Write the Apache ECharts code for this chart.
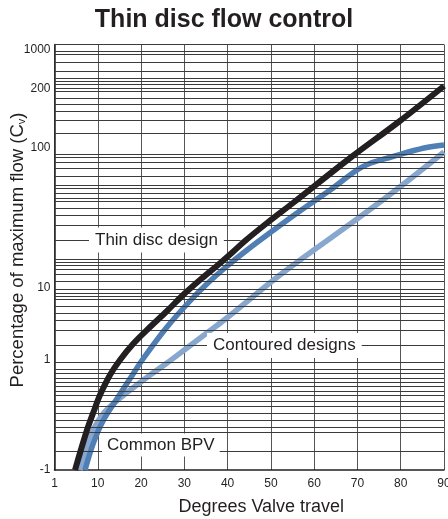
<!DOCTYPE html>
<html>
<head>
<meta charset="utf-8">
<script src="https://cdn.jsdelivr.net/npm/echarts@6/dist/echarts.min.js"></script>
<style>
html,body{margin:0;padding:0;background:#fff;}
#chart{width:448px;height:519px;}
</style>
</head>
<body>
<div id="chart"></div>
<script>
// ---- data ----
const xTickValues = [0, 10, 20, 30, 40, 50, 60, 70, 80, 90];
const xTickLabels = ['1', '10', '20', '30', '40', '50', '60', '70', '80', '90'];
// y axis is a "paper" scale (chart units); labels printed at these positions
const yTickValues = [420, 381, 322, 182, 110, 0];
const yTickLabels = ['1000', '200', '100', '10', '1', '-1'];
// horizontal rulings of the log-style paper (chart units)
const gridRules = [425.5, 419, 415.5, 407.5, 398.5, 392, 389, 385.5, 382, 378.5, 372, 365.5, 358.5, 350, 336.5,
  316, 312.5, 307.5, 301.5, 293.5, 285, 281.5, 276.5, 271.5, 268.5, 261.5, 254.5, 244.5,
  210.5, 207.5, 204.5, 201, 195.5, 189, 180.5, 177, 174, 170.5, 163.5, 157, 149.5, 139.5, 124.5,
  108, 100.5, 97, 92, 88, 83.5, 78.5, 74.5, 68.5, 63.5, 56.5, 50, 43, 38, 19];
// Thin disc design (black)
const thinDisc = [[4.74,0],[7.51,40],[9.36,62],[10.51,75],[12.82,95],[15.13,110],[18.14,126],[22.07,143],
  [26.0,159],[29.7,175],[33.6,190],[37.5,204],[41.2,218],[44.0,229],[49.1,247],[55.1,267],
  [68.3,312],[79.8,349],[90,384]];
// Contoured design (mid blue)
const contoured = [[7.05,0],[8.9,26],[11.2,49],[14.4,71],[17.4,91],[20.6,112],[26.0,143],
  [31.3,169],[35.2,186],[39.9,204],[44.5,220],[49.1,235],[56.7,259],[63.7,280],[69.9,300],
  [73.1,307],[77.8,313],[85.4,322],[90,325]];
// Common BPV (light blue)
const commonBPV = [[5.9,0],[7.7,27],[9.4,44],[11.2,56],[13.5,66],[16.0,75],[18.1,82],[22.1,95],
  [26.0,107],[30.6,122],[35.2,137],[39.2,150],[53.0,198],[69.9,251],[79.8,283],[90,318]];
const labelTexts = ['Thin disc design', 'Contoured designs', 'Common BPV'];
const yTitle = '{a|Percentage of maximum flow (C}{s|v}{a|)}';

const FONT = '"Liberation Sans", Arial, Helvetica, sans-serif';
const TXT = '#231f20';

const chart = echarts.init(document.getElementById('chart'), null, {renderer: 'canvas'});

const option = {
  backgroundColor: '#fff',
  animation: false,
  title: {
    text: 'Thin disc flow control',
    left: 'center',
    top: 3,
    textStyle: {fontFamily: FONT, fontSize: 25, fontWeight: 'bold', color: TXT}
  },
  grid: {left: 54.5, right: 4, top: 44.5, bottom: 49, containLabel: false, outerBoundsMode: 'none'},
  xAxis: {
    type: 'value', min: 0, max: 90, interval: 10,
    name: 'Degrees Valve travel', nameLocation: 'middle', nameGap: 28,
    nameTextStyle: {fontFamily: FONT, fontSize: 18, color: TXT, padding: [0, 0, 0, 24]},
    axisLine: {show: true, lineStyle: {color: '#231f20', width: 1.5}},
    axisTick: {show: false},
    axisLabel: {
      fontFamily: FONT, fontSize: 12, color: TXT, margin: 8,
      formatter: v => { const i = xTickValues.indexOf(v); return i >= 0 ? xTickLabels[i] : ''; }
    },
    splitLine: {show: true, lineStyle: {color: '#555', width: 1}}
  },
  yAxis: {
    type: 'value', min: 0, max: 425.5,
    axisLine: {show: true, lineStyle: {color: '#231f20', width: 1.5}},
    axisTick: {show: false},
    splitLine: {show: false},
    axisLabel: {
      customValues: yTickValues,
      fontFamily: FONT, fontSize: 12, color: TXT, margin: 4,
      formatter: v => { const i = yTickValues.indexOf(v); return i >= 0 ? yTickLabels[i] : ''; }
    }
  },
  series: [
    {
      type: 'line', data: [], z: 1, silent: true,
      markLine: {
        silent: true, symbol: ['none', 'none'], animation: false,
        label: {show: false},
        lineStyle: {color: '#3a3a3a', width: 1, type: 'solid'},
        data: gridRules.map(v => ({yAxis: v})).concat([
          [{coord: [0, 230]}, {coord: [43, 230]}]
        ])
      }
    },
    {
      name: labelTexts[2], type: 'line', data: commonBPV, z: 3,
      smooth: 0.35, symbol: 'none',
      lineStyle: {color: '#88a7cf', width: 5.5}
    },
    {
      name: labelTexts[1], type: 'line', data: contoured, z: 4,
      smooth: 0.35, symbol: 'none',
      lineStyle: {color: '#4f7fb5', width: 5.5}
    },
    {
      name: labelTexts[0], type: 'line', data: thinDisc, z: 5,
      smooth: 0.35, symbol: 'none',
      lineStyle: {color: '#231f20', width: 6}
    }
  ],
  graphic: [
    {type: 'text', x: 18, y: 250, rotation: Math.PI / 2, z: 100,
      style: {text: yTitle, align: 'center', verticalAlign: 'middle',
        rich: {
          a: {fontFamily: FONT, fontSize: 18.5, fill: TXT, color: TXT},
          s: {fontFamily: FONT, fontSize: 11, fill: TXT, color: TXT, padding: [8, 0, 0, 0]}
        }}},
    {type: 'text', x: 89, y: 240, z: 100,
      style: {text: labelTexts[0], font: '17px ' + FONT, fill: TXT, verticalAlign: 'middle',
        backgroundColor: '#fff', padding: [4, 6, 4, 6]}},
    {type: 'text', x: 207, y: 345.5, z: 100,
      style: {text: labelTexts[1], font: '17px ' + FONT, fill: TXT, verticalAlign: 'middle',
        backgroundColor: '#fff', padding: [4, 6, 4, 6]}},
    {type: 'text', x: 102, y: 445, z: 100,
      style: {text: labelTexts[2], font: '17px ' + FONT, fill: TXT, verticalAlign: 'middle',
        backgroundColor: '#fff', padding: [3, 5, 3, 5]}}
  ]
};
chart.setOption(option);
</script>
</body>
</html>
